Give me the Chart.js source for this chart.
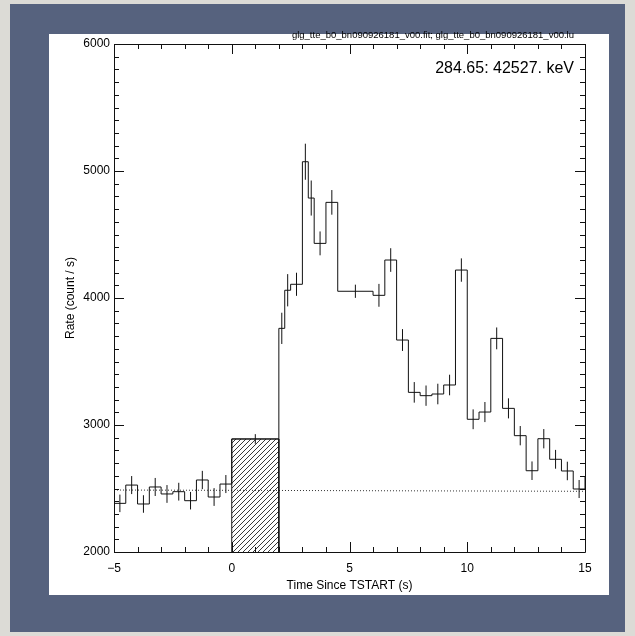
<!DOCTYPE html>
<html>
<head>
<meta charset="utf-8">
<script src="https://cdn.jsdelivr.net/npm/chart.js@4/dist/chart.umd.min.js"></script>
<style>
  html, body { margin: 0; padding: 0; }
  body { width: 635px; height: 636px; background: #dcdbd6; position: relative; overflow: hidden; }
  #frame { position: absolute; left: 10px; top: 4px; width: 615px; height: 628px; background: #56627e; }
  #panel { position: absolute; left: 49px; top: 34px; width: 560px; height: 561px; background: #fff; }
  #wrap { position: absolute; left: 0; top: 0; width: 635px; height: 636px; }
</style>
</head>
<body>
<div id="frame"></div>
<div id="panel"></div>
<div id="wrap"><canvas id="lc"></canvas></div>
<script>
// light curve bins (s) and rates (count / s)
const binEdges = [-5, -4.5, -4, -3.5, -3, -2.5, -2, -1.5, -1, -0.5, 0, 2, 2.25, 2.5, 3, 3.25, 3.5, 4, 4.5, 6,
  6.5, 7, 7.5, 8, 8.5, 9, 9.5, 10, 10.5, 11, 11.5, 12, 12.5, 13, 13.5, 14, 14.5, 15, 15.5];
const rates = [2383, 2527, 2378, 2512, 2457, 2475, 2404, 2567, 2433, 2535, 2890, 3761, 4061, 4108, 5073, 4787,
  4430, 4753, 4053, 4021, 4299, 3669, 3257, 3231, 3244, 3315, 4220, 3045, 3102, 3682, 3131, 2916, 2640, 2892,
  2730, 2638, 2496, 2593];
const rateErrors = [69, 71, 69, 71, 70, 70, 69, 72, 70, 71, 38, 123, 127, 91, 142, 138, 94, 97, 52, 90, 93, 86,
  81, 80, 81, 81, 92, 78, 79, 86, 79, 76, 73, 76, 74, 73, 71, 72];
const shadedBin = 10; // source interval, hatched

// background fit (dotted)
const bgTimes = [-5, 15];
const bgRates = [2488, 2478];

const xRange = [-5, 15];
const yRange = [2000, 6000];
const fileText = "glg_tte_b0_bn090926181_v00.fit; glg_tte_b0_bn090926181_v00.lu";
const energyText = "284.65: 42527. keV";

const FONT = "'Liberation Sans', Helvetica, Arial, sans-serif";

// step histogram points
const histPts = rates.map((r, i) => ({ x: binEdges[i], y: r }));
histPts.push({ x: binEdges[binEdges.length - 1], y: rates[rates.length - 1] });

// vertical error bars at bin centres, separated by gaps
const errPts = [];
rates.forEach((r, i) => {
  const c = (binEdges[i] + binEdges[i + 1]) / 2;
  errPts.push({ x: c, y: r - rateErrors[i] }, { x: c, y: r + rateErrors[i] }, { x: c, y: null });
});

const shadePts = [
  { x: binEdges[shadedBin], y: yRange[0] },
  { x: binEdges[shadedBin], y: rates[shadedBin] },
  { x: binEdges[shadedBin + 1], y: rates[shadedBin] },
  { x: binEdges[shadedBin + 1], y: yRange[0] }
];

// hatch pattern
const pc = document.createElement("canvas");
pc.width = 5; pc.height = 5;
const pctx = pc.getContext("2d");
pctx.strokeStyle = "#222";
pctx.lineWidth = 0.9;
pctx.beginPath();
pctx.moveTo(0, 5); pctx.lineTo(5, 0);
pctx.moveTo(-1, 1); pctx.lineTo(1, -1);
pctx.moveTo(4, 6); pctx.lineTo(6, 4);
pctx.stroke();
const hatch = pctx.createPattern(pc, "repeat");

// frame, inward ticks and labels on the plot
const framePlugin = {
  id: "frame",
  afterDraw(chart) {
    const { ctx, chartArea: a, scales: { x, y } } = chart;
    ctx.save();
    ctx.strokeStyle = "#111";
    ctx.lineWidth = 1;
    ctx.beginPath();
    ctx.rect(Math.round(a.left) + 0.5, Math.round(a.top) + 0.5, Math.round(a.right - a.left), Math.round(a.bottom - a.top));
    for (let i = 0; i <= (xRange[1] - xRange[0]); i++) {
      const v = xRange[0] + i;
      const px = Math.round(x.getPixelForValue(v)) + 0.5;
      const len = v % 5 === 0 ? 10 : 5;
      ctx.moveTo(px, a.bottom); ctx.lineTo(px, a.bottom - len);
      ctx.moveTo(px, a.top); ctx.lineTo(px, a.top + len);
    }
    for (let i = 0; i <= (yRange[1] - yRange[0]) / 100; i++) {
      const v = yRange[0] + i * 100;
      const py = Math.round(y.getPixelForValue(v)) + 0.5;
      const len = v % 1000 === 0 ? 10 : 5;
      ctx.moveTo(a.left, py); ctx.lineTo(a.left + len, py);
      ctx.moveTo(a.right, py); ctx.lineTo(a.right - len, py);
    }
    ctx.stroke();

    ctx.fillStyle = "#000";
    ctx.textAlign = "right";
    ctx.textBaseline = "middle";
    ctx.font = "9.5px " + FONT;
    ctx.fillText(fileText, 574, 35);
    ctx.font = "16px " + FONT;
    ctx.textBaseline = "alphabetic";
    ctx.fillText(energyText, 574, 73);
    ctx.restore();
  }
};

new Chart(document.getElementById("lc"), {
  type: "line",
  data: {
    datasets: [
      {
        data: shadePts,
        borderColor: "#111",
        borderWidth: 1,
        backgroundColor: hatch,
        fill: "start",
        pointRadius: 0,
        clip: 0
      },
      {
        data: bgTimes.map((t, i) => ({ x: t, y: bgRates[i] })),
        borderColor: "#333",
        borderWidth: 1,
        borderDash: [1, 2],
        pointRadius: 0,
        fill: false
      },
      {
        data: histPts,
        stepped: "before",
        borderColor: "#111",
        borderWidth: 1,
        pointRadius: 0,
        fill: false,
        clip: 0
      },
      {
        data: errPts,
        borderColor: "#111",
        borderWidth: 1,
        pointRadius: 0,
        spanGaps: false,
        fill: false,
        clip: 0
      }
    ]
  },
  options: {
    responsive: true,
    maintainAspectRatio: false,
    animation: false,
    events: [],
    layout: { padding: { left: 49, top: 44, right: 50, bottom: 40 } },
    plugins: { legend: { display: false }, tooltip: { enabled: false } },
    scales: {
      x: {
        type: "linear",
        min: xRange[0],
        max: xRange[1],
        grid: { display: false, drawTicks: false },
        border: { display: false },
        afterFit(s) { s.height = 44; },
        ticks: {
          stepSize: 5,
          padding: 9,
          color: "#000",
          font: { family: FONT, size: 12 },
          maxRotation: 0,
          callback: v => (v < 0 ? "\u2212" + Math.abs(v) : String(v))
        },
        title: {
          display: true,
          text: "Time Since TSTART (s)",
          color: "#000",
          font: { family: FONT, size: 12 },
          padding: { top: 0, bottom: 3 }
        }
      },
      y: {
        min: yRange[0],
        max: yRange[1],
        grid: { display: false, drawTicks: false },
        border: { display: false },
        afterFit(s) { s.width = 65; },
        ticks: {
          stepSize: 1000,
          padding: 4,
          color: "#000",
          font: { family: FONT, size: 12 },
          callback: v => String(v)
        },
        title: {
          display: true,
          text: "Rate (count / s)",
          color: "#000",
          font: { family: FONT, size: 12 },
          padding: { top: 14, bottom: 0 }
        }
      }
    }
  },
  plugins: [framePlugin]
});
</script>
</body>
</html>
